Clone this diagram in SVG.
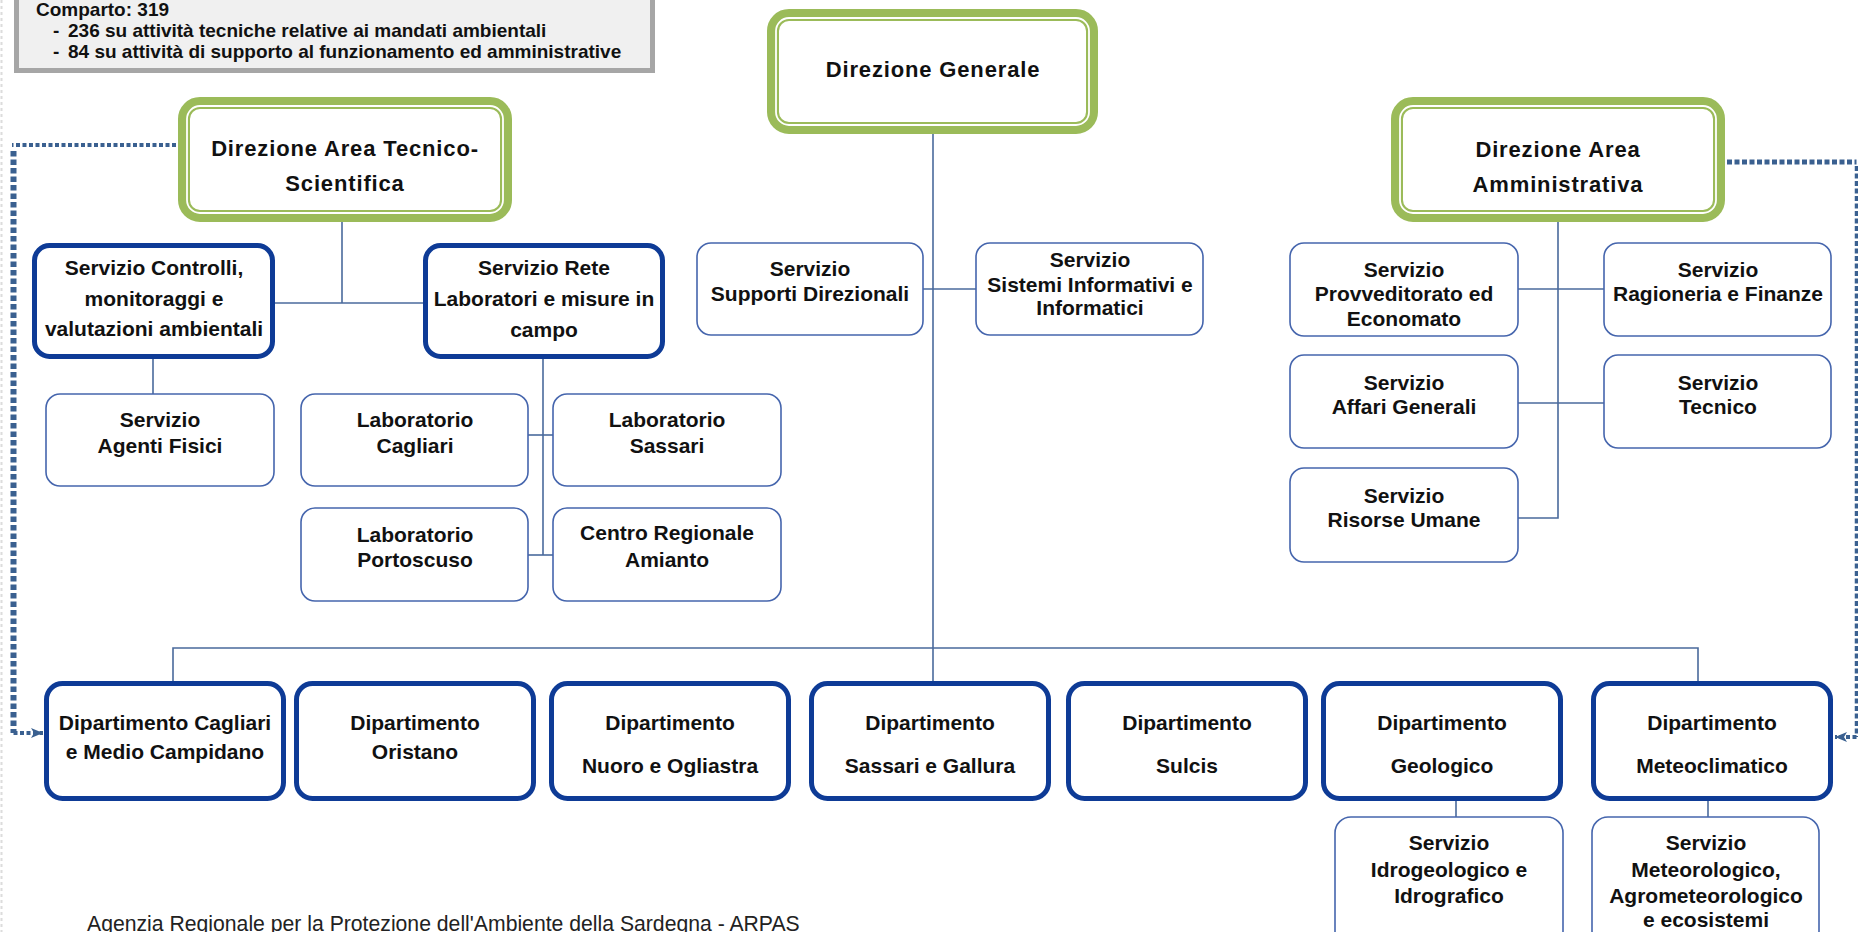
<svg xmlns="http://www.w3.org/2000/svg" width="1858" height="932" viewBox="0 0 1858 932">
  <defs>
    <style>
      .conn { fill: none; stroke: #4a6a9c; stroke-width: 1.6; }
      .dotv { fill: none; stroke: #3a6090; stroke-width: 6; stroke-dasharray: 5.5 3; }
      .doth { fill: none; stroke: #3a6090; stroke-width: 4; stroke-dasharray: 4 2.5; }
      .dotr { fill: none; stroke: #3a6090; stroke-width: 5; stroke-dasharray: 5 2.5; }
      .dotrv { fill: none; stroke: #3a6090; stroke-width: 3.5; stroke-dasharray: 5 2.5; }
      .thick { fill: #ffffff; stroke: #0e3b96; stroke-width: 5; }
      .thin { fill: #ffffff; stroke: #4565ad; stroke-width: 1.6; }
      .green { fill: #ffffff; stroke: #9bbb59; stroke-width: 12; }
      .greenline { fill: none; stroke: #ffffff; stroke-width: 1.8; }
      .t { font-family: "Liberation Sans", Arial, sans-serif; font-weight: bold; font-size: 21px; fill: #111111; text-anchor: middle; }
      .h { font-family: "Liberation Sans", Arial, sans-serif; font-weight: bold; font-size: 22px; letter-spacing: 0.85px; fill: #111111; text-anchor: middle; }
      .info { font-family: "Liberation Sans", Arial, sans-serif; font-weight: bold; font-size: 19px; fill: #111111; }
      .foot { font-family: "Liberation Sans", Arial, sans-serif; font-size: 21.2px; fill: #222222; }
    </style>
    <marker id="arrow" viewBox="0 0 12 12" refX="12" refY="6" markerWidth="13" markerHeight="12" markerUnits="userSpaceOnUse" orient="auto">
      <path d="M0,1 L12,6 L0,11 L3,6 z" fill="#3a6090"/>
    </marker>
  </defs>

  <!-- page edge -->
  <line x1="1.5" y1="0" x2="1.5" y2="932" stroke="#dcdcdc" stroke-width="2" stroke-dasharray="3 3"/>

  <!-- staff summary box -->
  <g id="staff-box">
    <rect x="16.5" y="-10" width="636" height="80.5" fill="#f0f0f0" stroke="#a6a6a6" stroke-width="5"/>
    <text class="info" x="36" y="16">Comparto: 319</text>
    <text class="info" x="53" y="37">-</text>
    <text class="info" x="68" y="37">236 su attività tecniche relative ai mandati ambientali</text>
    <text class="info" x="53" y="58">-</text>
    <text class="info" x="68" y="58">84 su attività di supporto al funzionamento ed amministrative</text>
  </g>

  <!-- connectors -->
  <g id="connectors">
    <!-- Direzione Generale trunk and department bus -->
    <path class="conn" d="M933,134 V681"/>
    <path class="conn" d="M173,681 V648 H1698 V681"/>
    <path class="conn" d="M923,289 H976"/>
    <!-- technical area -->
    <path class="conn" d="M342,222 V303"/>
    <path class="conn" d="M275,303 H423"/>
    <path class="conn" d="M153,359 V394"/>
    <path class="conn" d="M543,359 V555"/>
    <path class="conn" d="M528,435 H553"/>
    <path class="conn" d="M528,555 H553"/>
    <!-- administrative area -->
    <path class="conn" d="M1558,222 V518 H1518"/>
    <path class="conn" d="M1518,289 H1604"/>
    <path class="conn" d="M1518,403 H1604"/>
    <!-- department services -->
    <path class="conn" d="M1456,801 V817"/>
    <path class="conn" d="M1708,801 V817"/>
    <!-- functional links (dotted) -->
    <path class="doth" d="M176,145 H12"/>
    <path class="dotv" d="M13.5,151 V733"/>
    <path class="doth" d="M13.5,733 H43" marker-end="url(#arrow)"/>
    <path class="dotr" d="M1727,162 H1856.5"/>
    <path class="dotrv" d="M1856.5,166 V737"/>
    <path class="doth" d="M1856.5,737 H1835" marker-end="url(#arrow)"/>
  </g>

  <!-- top management -->
  <g id="direzione-generale">
    <rect class="green" x="773" y="15" width="319" height="113" rx="16"/>
    <rect class="greenline" x="776" y="18" width="313" height="107" rx="13"/>
    <text class="h" x="933" y="77">Direzione Generale</text>
  </g>
  <g id="direzione-tecnico-scientifica">
    <rect class="green" x="184" y="103" width="322" height="113" rx="16"/>
    <rect class="greenline" x="187" y="106" width="316" height="107" rx="13"/>
    <text class="h" x="345" y="156">Direzione Area Tecnico-</text>
    <text class="h" x="345" y="191">Scientifica</text>
  </g>
  <g id="direzione-amministrativa">
    <rect class="green" x="1397" y="103" width="322" height="113" rx="16"/>
    <rect class="greenline" x="1400" y="106" width="316" height="107" rx="13"/>
    <text class="h" x="1558" y="157">Direzione Area</text>
    <text class="h" x="1558" y="192">Amministrativa</text>
  </g>

  <!-- technical area services -->
  <g id="servizio-controlli">
    <rect class="thick" x="34.5" y="245.5" width="238" height="111" rx="15"/>
    <text class="t" x="154" y="275">Servizio Controlli,</text>
    <text class="t" x="154" y="306">monitoraggi e</text>
    <text class="t" x="154" y="336">valutazioni ambientali</text>
  </g>
  <g id="servizio-rete-laboratori">
    <rect class="thick" x="425.5" y="245.5" width="237" height="111" rx="15"/>
    <text class="t" x="544" y="275">Servizio Rete</text>
    <text class="t" x="544" y="306">Laboratori e misure in</text>
    <text class="t" x="544" y="337">campo</text>
  </g>
  <g id="servizio-agenti-fisici">
    <rect class="thin" x="46" y="394" width="228" height="92" rx="14"/>
    <text class="t" x="160" y="427">Servizio</text>
    <text class="t" x="160" y="453">Agenti Fisici</text>
  </g>
  <g id="laboratorio-cagliari">
    <rect class="thin" x="301" y="394" width="227" height="92" rx="14"/>
    <text class="t" x="415" y="427">Laboratorio</text>
    <text class="t" x="415" y="453">Cagliari</text>
  </g>
  <g id="laboratorio-sassari">
    <rect class="thin" x="553" y="394" width="228" height="92" rx="14"/>
    <text class="t" x="667" y="427">Laboratorio</text>
    <text class="t" x="667" y="453">Sassari</text>
  </g>
  <g id="laboratorio-portoscuso">
    <rect class="thin" x="301" y="508" width="227" height="93" rx="14"/>
    <text class="t" x="415" y="542">Laboratorio</text>
    <text class="t" x="415" y="567">Portoscuso</text>
  </g>
  <g id="centro-amianto">
    <rect class="thin" x="553" y="508" width="228" height="93" rx="14"/>
    <text class="t" x="667" y="540">Centro Regionale</text>
    <text class="t" x="667" y="567">Amianto</text>
  </g>

  <!-- general direction staff services -->
  <g id="servizio-supporti-direzionali">
    <rect class="thin" x="697" y="243" width="226" height="92" rx="14"/>
    <text class="t" x="810" y="276">Servizio</text>
    <text class="t" x="810" y="301">Supporti Direzionali</text>
  </g>
  <g id="servizio-sistemi-informativi">
    <rect class="thin" x="976" y="243" width="227" height="92" rx="14"/>
    <text class="t" x="1090" y="267">Servizio</text>
    <text class="t" x="1090" y="292">Sistemi Informativi e</text>
    <text class="t" x="1090" y="315">Informatici</text>
  </g>

  <!-- administrative area services -->
  <g id="servizio-provveditorato">
    <rect class="thin" x="1290" y="243" width="228" height="93" rx="14"/>
    <text class="t" x="1404" y="277">Servizio</text>
    <text class="t" x="1404" y="301">Provveditorato ed</text>
    <text class="t" x="1404" y="326">Economato</text>
  </g>
  <g id="servizio-ragioneria">
    <rect class="thin" x="1604" y="243" width="227" height="93" rx="14"/>
    <text class="t" x="1718" y="277">Servizio</text>
    <text class="t" x="1718" y="301">Ragioneria e Finanze</text>
  </g>
  <g id="servizio-affari-generali">
    <rect class="thin" x="1290" y="355" width="228" height="93" rx="14"/>
    <text class="t" x="1404" y="390">Servizio</text>
    <text class="t" x="1404" y="414">Affari Generali</text>
  </g>
  <g id="servizio-tecnico">
    <rect class="thin" x="1604" y="355" width="227" height="93" rx="14"/>
    <text class="t" x="1718" y="390">Servizio</text>
    <text class="t" x="1718" y="414">Tecnico</text>
  </g>
  <g id="servizio-risorse-umane">
    <rect class="thin" x="1290" y="468" width="228" height="94" rx="14"/>
    <text class="t" x="1404" y="503">Servizio</text>
    <text class="t" x="1404" y="527">Risorse Umane</text>
  </g>

  <!-- departments -->
  <g id="dip-cagliari">
    <rect class="thick" x="46.5" y="683.5" width="237" height="115" rx="16"/>
    <text class="t" x="165" y="730">Dipartimento Cagliari</text>
    <text class="t" x="165" y="759">e Medio Campidano</text>
  </g>
  <g id="dip-oristano">
    <rect class="thick" x="296.5" y="683.5" width="237" height="115" rx="16"/>
    <text class="t" x="415" y="730">Dipartimento</text>
    <text class="t" x="415" y="759">Oristano</text>
  </g>
  <g id="dip-nuoro">
    <rect class="thick" x="551.5" y="683.5" width="237" height="115" rx="16"/>
    <text class="t" x="670" y="730">Dipartimento</text>
    <text class="t" x="670" y="773">Nuoro e Ogliastra</text>
  </g>
  <g id="dip-sassari">
    <rect class="thick" x="811.5" y="683.5" width="237" height="115" rx="16"/>
    <text class="t" x="930" y="730">Dipartimento</text>
    <text class="t" x="930" y="773">Sassari e Gallura</text>
  </g>
  <g id="dip-sulcis">
    <rect class="thick" x="1068.5" y="683.5" width="237" height="115" rx="16"/>
    <text class="t" x="1187" y="730">Dipartimento</text>
    <text class="t" x="1187" y="773">Sulcis</text>
  </g>
  <g id="dip-geologico">
    <rect class="thick" x="1323.5" y="683.5" width="237" height="115" rx="16"/>
    <text class="t" x="1442" y="730">Dipartimento</text>
    <text class="t" x="1442" y="773">Geologico</text>
  </g>
  <g id="dip-meteoclimatico">
    <rect class="thick" x="1593.5" y="683.5" width="237" height="115" rx="16"/>
    <text class="t" x="1712" y="730">Dipartimento</text>
    <text class="t" x="1712" y="773">Meteoclimatico</text>
  </g>

  <!-- department services -->
  <g id="servizio-idrogeologico">
    <rect class="thin" x="1335" y="817" width="228" height="130" rx="16"/>
    <text class="t" x="1449" y="850">Servizio</text>
    <text class="t" x="1449" y="877">Idrogeologico e</text>
    <text class="t" x="1449" y="903">Idrografico</text>
  </g>
  <g id="servizio-meteorologico">
    <rect class="thin" x="1592" y="817" width="227" height="130" rx="16"/>
    <text class="t" x="1706" y="850">Servizio</text>
    <text class="t" x="1706" y="877">Meteorologico,</text>
    <text class="t" x="1706" y="903">Agrometeorologico</text>
    <text class="t" x="1706" y="927">e ecosistemi</text>
  </g>

  <text class="foot" x="87" y="931">Agenzia Regionale per la Protezione dell'Ambiente della Sardegna - ARPAS</text>
</svg>
